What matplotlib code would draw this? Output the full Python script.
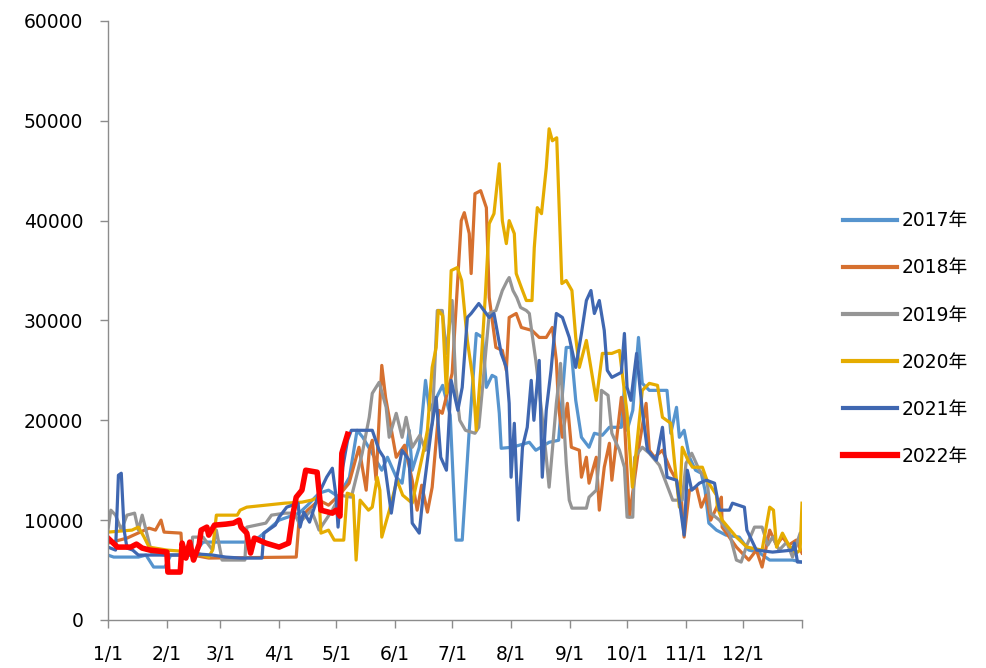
import matplotlib
matplotlib.use("Agg")
import matplotlib.pyplot as plt

plt.rcParams['font.family'] = ['DejaVu Sans', 'Noto Sans CJK SC']

# day-of-year (0 = 1/1) and value
d2017 = [0, 3, 16, 20, 24, 30, 33, 45, 50, 75, 79.5, 84, 90, 100.5, 105, 111, 116, 121.6, 124, 127, 131,
         134, 138, 144, 147, 151.6, 154.7, 158.4, 160, 163.7, 167, 169, 172, 176, 180, 183, 186.3, 190,
         193.7, 197, 199, 202, 204, 205.8, 206.8, 212.6, 221.6, 225, 232, 237, 241, 243.5, 246, 249, 253,
         255.8, 260, 263.7, 270, 271.6, 273, 276, 279, 281, 284.7, 294, 296, 299, 300.5, 303, 305.8, 309,
         312, 314, 316, 320, 325, 332, 337, 342, 348, 360, 365]
v2017 = [6500, 6300, 6300, 6500, 5300, 5300, 6500, 6600, 7800, 7800, 8300, 9000, 10000, 10700, 11500, 12700,
         13000, 12300, 13300, 14300, 19000, 18300, 17000, 15000, 16300, 14300, 13700, 19000, 15000, 17300,
         24000, 21000, 22000, 23500, 20500, 8000, 8000, 19000, 28700, 28300, 23300, 24500, 24300, 20700,
         17200, 17300, 17800, 17000, 17800, 18000, 27300, 27300, 22000, 18300, 17300, 18700, 18500, 19300,
         19300, 23300, 19000, 21000, 28300, 23700, 23000, 23000, 18700, 21300, 18300, 19000, 16300, 15000,
         14700, 13000, 9700, 9000, 8500, 8300, 7000, 6800, 6000, 6000, 5800]

d2018 = [0, 10, 21.6, 25, 27.9, 29.5, 38.4, 39, 53, 99, 100.5, 105, 111, 116, 121.6, 126.8, 132, 135.8,
         137.4, 139, 141, 144, 146, 151.6, 156, 160, 162.6, 165, 168, 170.5, 174, 175.8, 181, 183.7, 185.8,
         187.4, 190, 191, 193, 196, 199, 200.5, 204, 207.4, 209.5, 211, 214.7, 217.4, 223, 226.8, 230.5,
         233.7, 235.8, 237, 239, 241.6, 243.7, 247.9, 249, 251.6, 253, 256.8, 258.4, 261, 263.7, 265, 270,
         271.6, 274.2, 279.5, 283, 284.7, 287.4, 291.6, 296, 299, 301.6, 303, 305.8, 309.5, 312, 314.7, 317,
         322.6, 323, 330.5, 337, 341, 344, 348, 351.6, 354.7, 358, 362, 365]
v2018 = [7700, 8200, 9200, 9000, 10000, 8800, 8700, 6700, 6200, 6300, 10000, 11000, 12000, 11500, 12500,
         13700, 17300, 13000, 17000, 18000, 14000, 25500, 22300, 16300, 17500, 14000, 11000, 13500, 10800,
         13300, 21000, 20700, 24700, 33300, 40000, 40800, 38700, 34700, 42700, 43000, 41300, 32300, 27300,
         27000, 25000, 30300, 30700, 29300, 29000, 28300, 28300, 29300, 26000, 21300, 18300, 21700, 17300,
         17000, 14300, 16300, 13700, 16300, 11000, 15300, 17700, 14000, 22300, 20000, 10300, 17700, 21700,
         17000, 16300, 17000, 15000, 14000, 12000, 8300, 13000, 13300, 11300, 12500, 10000, 12300, 9300,
         7300, 6000, 7000, 5300, 9000, 7500, 8300, 7500, 8000, 6700]

d2019 = [0, 1.5, 4, 7, 10, 14, 16, 18, 20, 23, 30, 44, 44.5, 50, 55, 57, 60, 72, 73, 83, 86, 93, 98,
         100.5, 107, 111, 118, 122, 128, 133.7, 137.4, 139, 142.6, 146.3, 147.9, 151.6, 154.7, 156.8, 160,
         164, 167, 170.5, 173.2, 175.8, 178, 181, 183, 185, 188, 193, 195, 197, 200.5, 204, 207.4, 210,
         211, 213, 215, 217, 220, 221.6, 223, 225, 228, 230.5, 232, 233.7, 235.8, 237, 238, 241, 242.6,
         244, 251.6, 253, 256.8, 258.4, 259.5, 263, 265, 269, 271.6, 273, 276, 277, 281, 284.7, 290, 293,
         297, 302, 304, 307, 311, 315, 317, 321.6, 326.8, 330.5, 333, 336, 340, 344, 347, 349.5, 353, 357,
         360, 364, 365]
v2019 = [9000, 11000, 10500, 9000, 10500, 10700, 9000, 10500, 9000, 6700, 6500, 6500, 8300, 8300, 7000,
         9000, 6000, 6000, 9300, 9700, 10500, 10700, 10700, 9700, 11000, 9000, 11000, 12500, 12300, 16700,
         20300, 22700, 23800, 21300, 18300, 20700, 18300, 20300, 17300, 18500, 17000, 19700, 31000, 31000,
         26700, 32000, 23300, 20000, 19000, 18700, 19300, 23300, 30700, 31000, 33000, 34000, 34300, 33000,
         32300, 31300, 31000, 30700, 28700, 26000, 21000, 16300, 13300, 17000, 21700, 23700, 25700, 15700,
         12000, 11200, 11200, 12300, 13000, 16300, 23000, 22500, 18700, 17000, 15300, 10300, 10300, 16300,
         17300, 16700, 15500, 14000, 12000, 12000, 15700, 16700, 15000, 14000, 10700, 10000, 8700, 6000,
         5800, 7500, 9300, 9300, 7500, 8300, 7000, 7800, 6300, 8700, 8000]

d2020 = [0, 12.6, 16, 19, 21.6, 31, 45, 53, 55, 57, 68, 69.5, 73, 83, 93, 102, 107, 111, 112, 116, 119,
         124, 125.8, 129, 130.5, 132.6, 137, 139, 141.6, 143, 144, 148, 152, 155, 160, 162.6, 166, 168,
         170.5, 172.6, 173.7, 176, 178, 180.5, 183.7, 186, 189, 192, 193.7, 196, 198.4, 200.5, 203, 205.8,
         207.4, 209.5, 211, 213.7, 214.7, 217.4, 220, 223, 224.2, 225.8, 228, 230.5, 232, 233.7, 236,
         238.7, 241, 244, 246, 247.9, 251.6, 256.8, 260, 265, 269, 273, 275.8, 278, 281, 284.7, 289, 291.6,
         296, 298, 300.5, 302, 305, 307.4, 312.6, 315, 320, 320.5, 323, 330.5, 336, 344, 348, 350, 351.6,
         354.7, 358, 362, 364, 365]
v2020 = [8800, 9000, 9300, 8300, 7300, 7000, 6800, 6300, 7000, 10500, 10500, 11000, 11300, 11500, 11700,
         11800, 12000, 12300, 8700, 9000, 8000, 8000, 12700, 12500, 6000, 12000, 11000, 11300, 14300, 13000,
         8300, 11000, 14000, 12500, 11700, 14000, 17000, 19000, 25300, 27300, 31000, 30500, 22700, 35000,
         35300, 34000, 28000, 24000, 19000, 25000, 32300, 39700, 40700, 45700, 40000, 37700, 40000, 38700,
         34700, 33300, 32000, 32000, 37300, 41300, 40700, 45300, 49200, 48000, 48300, 33700, 34000, 33000,
         28300, 25300, 28000, 22000, 26700, 26700, 27000, 20700, 13300, 17300, 23000, 23700, 23500, 20300,
         19700, 15700, 11300, 17300, 16000, 15300, 15300, 14000, 12500, 11300, 10000, 8300, 7300, 7000,
         11300, 11000, 7300, 8700, 7500, 6700, 7000, 11700]

d2021 = [0, 4, 5.5, 7, 8.5, 10, 13, 16, 30, 45, 48, 55, 62, 70, 81, 82, 88, 90, 94, 100, 101, 103, 106,
         111, 115, 118, 120, 121, 123.5, 126, 128, 132, 139, 142.6, 145, 149, 151.6, 154.7, 158.4, 160,
         163.7, 166, 170, 172.6, 175, 178, 180.5, 184, 186.3, 189, 191, 195, 200.5, 203, 206.8, 209.5, 211,
         212, 213.7, 215.8, 218, 220.5, 222.6, 224, 226.8, 228.4, 230.5, 233, 235.8, 239, 242.6, 246, 249,
         251.6, 254, 255.8, 258.4, 261, 262.6, 265, 270, 271.6, 273, 275, 278, 281, 283.7, 288.4, 291.6,
         294, 299, 303, 304.7, 307, 311, 314.7, 319, 321.6, 326.8, 328.4, 334.7, 336, 341, 349.5, 360, 361,
         362.6, 365]
v2021 = [7300, 7000, 14500, 14700, 9000, 7200, 7000, 6500, 6500, 6500, 6600, 6500, 6300, 6200, 6200, 8700,
         9500, 10300, 11300, 11700, 9300, 10800, 9800, 12700, 14300, 15200, 12300, 9300, 15300, 18000,
         19000, 19000, 19000, 17000, 16300, 10700, 14000, 17000, 16000, 9700, 8700, 13000, 19000, 22300,
         16300, 15000, 24000, 21000, 23300, 30300, 30700, 31700, 30300, 30700, 26700, 25300, 21700, 14300,
         19700, 10000, 17300, 19300, 24000, 20000, 26000, 14300, 21000, 25000, 30700, 30300, 28300, 25300,
         28700, 32000, 33000, 30700, 32000, 29000, 25000, 24300, 24800, 28700, 23300, 22000, 26700, 21000,
         17000, 16000, 19300, 14300, 14000, 8500, 15000, 13000, 13700, 14000, 13700, 11000, 11000, 11700,
         11300, 9000, 7000, 6800, 7000, 7700, 5800, 5800]

d2022 = [0, 5, 12, 15, 18, 22, 31, 31.5, 38, 39, 41, 43, 45, 48, 49, 52, 53, 56, 62, 66, 69, 70, 73, 75,
         77, 83, 90, 95, 97, 99, 102, 104, 110, 112, 118, 120, 122, 123, 126]
v2022 = [8200, 7300, 7300, 7600, 7200, 7000, 6800, 4800, 4800, 7700, 6200, 7800, 6000, 7600, 9000, 9300,
         8500, 9500, 9600, 9700, 10000, 9300, 8700, 6700, 8200, 7700, 7300, 7700, 10300, 12300, 13000,
         15000, 14800, 11000, 10700, 11000, 10400, 16700, 18600]

years = ['2017年', '2018年', '2019年', '2020年', '2021年', '2022年']
colors = ['#5694CE', '#D6702F', '#959595', '#E5AC00', '#3F67B1', '#FF0000']
series = [(d2017, v2017), (d2018, v2018), (d2019, v2019), (d2020, v2020), (d2021, v2021), (d2022, v2022)]

month_days = [0, 31, 59, 90, 120, 151, 181, 212, 243, 273, 304, 334, 365]
month_labels = ['1/1', '2/1', '3/1', '4/1', '5/1', '6/1', '7/1', '8/1', '9/1', '10/1', '11/1', '12/1', '']

fig = plt.figure(figsize=(9.86, 6.68), dpi=100)
ax = fig.add_axes([0.1095, 0.0719, 0.7039, 0.8967])

for (d, v), lab, c in zip(series, years, colors):
    lw = 4.0 if lab == '2022年' else 2.3
    ax.plot(d, v, color=c, lw=lw, label=lab, solid_joinstyle='round')

ax.set_xlim(0, 365)
ax.set_ylim(0, 60000)
ax.set_yticks(range(0, 60001, 10000))
ax.set_xticks(month_days)
ax.set_xticklabels(month_labels)

for s in ['top', 'right']:
    ax.spines[s].set_visible(False)
for s in ['left', 'bottom']:
    ax.spines[s].set_color('#8C8C8C')
    ax.spines[s].set_linewidth(1.0)
ax.tick_params(axis='both', direction='out', length=5.8, width=1.0, color='#8C8C8C',
               labelsize=13.5, labelcolor='black')
ax.tick_params(axis='y', pad=12)
ax.tick_params(axis='x', pad=12)

leg = ax.legend(loc='center left', bbox_to_anchor=(0.855, 0.493), bbox_transform=fig.transFigure,
                frameon=False, fontsize=13.5, handlelength=2.9, handletextpad=0.2,
                labelspacing=1.5, borderpad=0, borderaxespad=0)
for line in leg.get_lines():
    line.set_linewidth(3.0 if line.get_label() != '2022年' else 4.5)

fig.savefig('out.png', dpi=100)
